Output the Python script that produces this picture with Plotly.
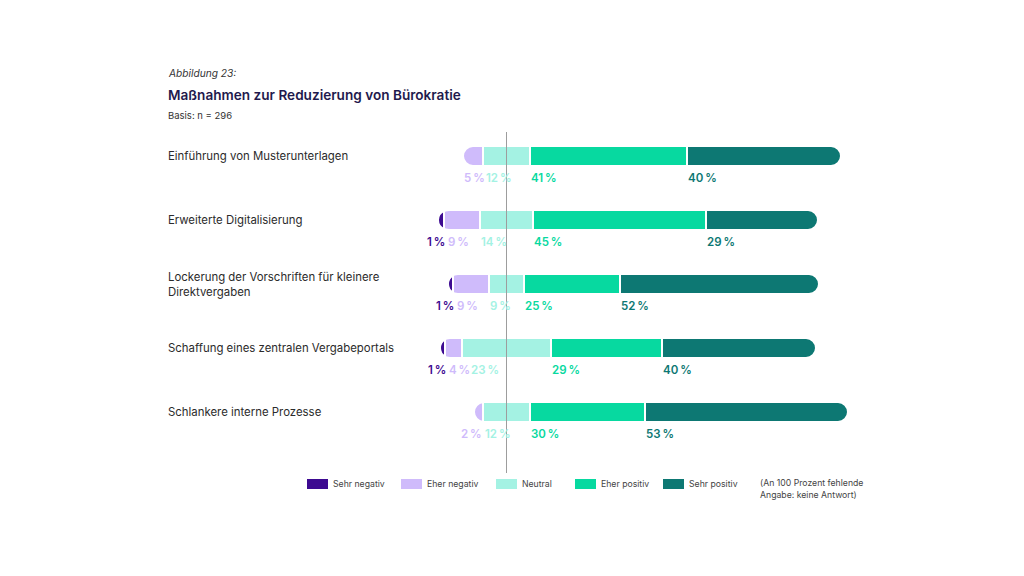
import plotly.graph_objects as go

# ---------------- data ----------------
categories = [
    "Einführung von Musterunterlagen",
    "Erweiterte Digitalisierung",
    "Lockerung der Vorschriften für kleinere\nDirektvergaben",
    "Schaffung eines zentralen Vergabeportals",
    "Schlankere interne Prozesse",
]
# estimated unrounded shares (labels show the rounded values)
sehr_negativ = [0, 1.4, 1.4, 1.4, 0]
eher_negativ = [5.4, 9.4, 9.4, 4.4, 2.4]
neutral = [12, 14, 9, 23, 12]
eher_positiv = [41, 45, 25, 29, 30]
sehr_positiv = [40, 29, 52, 40, 53]
series_names = ["Sehr negativ", "Eher negativ", "Neutral", "Eher positiv", "Sehr positiv"]
note_text = ["(An 100 Prozent fehlende", "Angabe: keine Antwort)"]

# ---------------- style ----------------
colors = {
    "Sehr negativ": "#3d0a91",
    "Eher negativ": "#cfbbfb",
    "Neutral": "#a4f2e3",
    "Eher positiv": "#07d9a0",
    "Sehr positiv": "#0d7873",
}
FONT = "Inter, Roboto, sans-serif"
W, H = 1024, 576
PX = 3.84          # pixels per percent
X0 = 506.5         # pixel position of 0 %
ROW0, STEP = 156, 64
BAR_W = 20.5 / STEP
NEU_W = 18.5 / STEP
TX = 166           # left edge of text column (px)
PAD = 2            # annotation inner padding (px)

yidx = list(range(len(categories)))

fig = go.Figure()

def add_bar(vals, name, width, line_w):
    fig.add_trace(go.Bar(
        x=vals, y=yidx, orientation="h", name=name, width=width,
        marker=dict(color=colors[name], line=dict(color="white", width=line_w)),
        showlegend=False, hoverinfo="skip",
    ))

# negative side (stacked outward from 0), then positive side
add_bar([-v / 2 for v in neutral], "Neutral", NEU_W, 0)
add_bar([-v for v in eher_negativ], "Eher negativ", BAR_W, 2)
add_bar([-v for v in sehr_negativ], "Sehr negativ", BAR_W, 2)
add_bar([v / 2 for v in neutral], "Neutral", NEU_W, 0)
add_bar(eher_positiv, "Eher positiv", BAR_W, 2)
add_bar(sehr_positiv, "Sehr positiv", BAR_W, 2)

annotations = []

def px(v):
    return X0 + v * PX

def fmt(v):
    return f"{round(v)}\u2009%"

def lw(v):
    return 7 * len(str(round(v))) + 12

# value labels below each bar (visible text positions tracked to avoid overlaps)
for i in yidx:
    sn, en, ne, ep, sp = sehr_negativ[i], eher_negativ[i], neutral[i], eher_positiv[i], sehr_positiv[i]
    en_start = -(ne / 2 + en)
    ne_start = -ne / 2
    prev_end = -1e9

    def lab(x, v, color, anchor, shift):
        annotations.append(dict(
            x=x, y=i, xref="x", yref="y", text=fmt(v), showarrow=False,
            xanchor=anchor, yanchor="middle", xshift=shift, yshift=-22,
            font=dict(family=FONT, size=11.5, color=color, weight=600),
        ))

    if sn > 0:
        # right-aligned, text ends 1px after the start of "Eher negativ"
        lab(en_start, sn, colors["Sehr negativ"], "right", 1 + PAD)
        prev_end = px(en_start) + 1
    if en > 0:
        if en * PX < 12:
            lab(ne_start, en, colors["Eher negativ"], "right", PAD - 1)
            prev_end = px(ne_start) - 1
        else:
            left = max(px(en_start) + 1, prev_end + 3)
            lab(en_start, en, colors["Eher negativ"], "left", left - PAD - px(en_start))
            prev_end = left + lw(en)
    for start, val, name in [(ne_start, ne, "Neutral"), (ne / 2, ep, "Eher positiv"),
                             (ne / 2 + ep, sp, "Sehr positiv")]:
        left = max(px(start) + 1, prev_end + 3)
        lab(start, val, colors[name], "left", left - PAD - px(start))
        prev_end = left + lw(val)

# category labels
for i, c in enumerate(categories):
    annotations.append(dict(
        x=TX / W, y=i, xref="paper", yref="y", text=c.replace("\n", "<br>"),
        showarrow=False, xanchor="left", yanchor="middle", align="left",
        font=dict(family=FONT, size=11.4, color="#2b2b2b"),
    ))

# titles
def ptxt(x, y, text, size, color, **kw):
    annotations.append(dict(
        x=x / W, y=1 - y / H, xref="paper", yref="paper", text=text, showarrow=False,
        xanchor="left", yanchor="middle", align="left",
        font=dict(family=FONT, size=size, color=color, **kw),
    ))

ptxt(TX, 73, "Abbildung 23:", 10.2, "#333333", style="italic")
ptxt(TX, 95, "Maßnahmen zur Reduzierung von Bürokratie", 13.6, "#1f1a4d", weight=600)
ptxt(TX, 115, "Basis: n = 296", 9.5, "#333333")

# custom legend
shapes = []
leg_rect_x = [307, 401, 496, 575, 663]
for lx, name in zip(leg_rect_x, series_names):
    shapes.append(dict(type="rect", xref="paper", yref="paper",
                       x0=lx / W, x1=(lx + 21) / W, y0=1 - 489 / H, y1=1 - 479 / H,
                       fillcolor=colors[name], line=dict(width=0)))
    ptxt(lx + 24, 484, name, 8.7, "#444444")
ptxt(758, 483, note_text[0], 8.7, "#444444")
ptxt(758, 495, note_text[1], 8.7, "#444444")

# zero reference line
shapes.append(dict(type="line", xref="x", yref="paper", x0=0, x1=0,
                   y0=1 - 132 / H, y1=1 - 473 / H, layer="above",
                   line=dict(color="#9d9d9d", width=1)))

fig.update_layout(
    width=W, height=H, margin=dict(l=0, r=0, t=0, b=0),
    paper_bgcolor="white", plot_bgcolor="white",
    barmode="relative", barcornerradius=10, bargap=0,
    xaxis=dict(range=[-X0 / PX, (W - X0) / PX], visible=False, fixedrange=True),
    yaxis=dict(range=[(H - ROW0) / STEP, -ROW0 / STEP], visible=False, fixedrange=True),
    annotations=annotations, shapes=shapes, showlegend=False,
)

fig.write_html("out.html")
